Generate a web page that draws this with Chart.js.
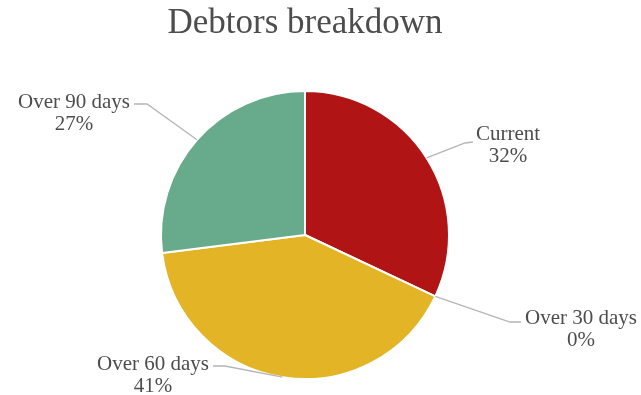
<!DOCTYPE html>
<html>
<head>
<meta charset="utf-8">
<script src="https://cdn.jsdelivr.net/npm/chart.js@4.4.0/dist/chart.umd.min.js"></script>
<style>
  html, body { margin: 0; padding: 0; background: #fff; }
  #wrap { width: 641px; height: 395px; }
</style>
</head>
<body>
<div id="wrap"><canvas id="debtors"></canvas></div>
<script>
// Debtors by age bucket (percent of total)
const categories = ['Current', 'Over 30 days', 'Over 60 days', 'Over 90 days'];
const shares = [32, 0, 41, 27];
const sliceColors = ['#B01414', '#7F7F7F', '#E3B526', '#68AA8C'];

// Where each callout sits: text centre, elbow of the leader line, end next to the text
const callouts = [
    { text: [508, 134], elbow: [465, 143], end: [473, 142] },
    { text: [581, 318], elbow: [510, 322], end: [521, 322] },
    { text: [153, 364], elbow: [225, 366], end: [213, 366] },
    { text: [74, 102], elbow: [147, 104], end: [134, 104] }
];

// Draw "Name / xx%" labels with grey leader lines from the rim of each slice
const calloutPlugin = {
    id: 'callouts',
    afterDatasetsDraw(chart) {
        const ctx = chart.ctx;
        const meta = chart.getDatasetMeta(0);
        ctx.save();
        meta.data.forEach((arc, i) => {
            const c = callouts[i];
            const p = arc.getProps(['x', 'y', 'startAngle', 'endAngle', 'outerRadius'], true);
            const mid = (p.startAngle + p.endAngle) / 2;
            const ex = p.x + Math.cos(mid) * p.outerRadius;
            const ey = p.y + Math.sin(mid) * p.outerRadius;

            ctx.strokeStyle = '#b5b5b5';
            ctx.lineWidth = 1.3;
            ctx.beginPath();
            ctx.moveTo(ex, ey);
            ctx.lineTo(c.elbow[0], c.elbow[1]);
            ctx.lineTo(c.end[0], c.end[1]);
            ctx.stroke();

            ctx.fillStyle = '#4d4d4d';
            ctx.font = '21px "Liberation Serif", "Times New Roman", serif';
            ctx.textAlign = 'center';
            ctx.textBaseline = 'middle';
            ctx.fillText(categories[i], c.text[0], c.text[1]);
            ctx.fillText(shares[i] + '%', c.text[0], c.text[1] + 22);
        });
        ctx.restore();
    }
};

new Chart(document.getElementById('debtors'), {
    type: 'pie',
    data: {
        labels: categories,
        datasets: [{
            data: shares,
            backgroundColor: sliceColors,
            borderColor: '#ffffff',
            borderWidth: 2
        }]
    },
    options: {
        responsive: true,
        maintainAspectRatio: false,
        animation: false,
        layout: { padding: { left: 0, right: 31, top: 0, bottom: 15 } },
        plugins: {
            legend: { display: false },
            tooltip: { enabled: false },
            title: {
                display: true,
                text: 'Debtors breakdown',
                color: '#4d4d4d',
                font: { family: '"Liberation Serif", "Times New Roman", serif', size: 35, weight: 'normal' },
                padding: { top: 3, bottom: 45 }
            }
        }
    },
    plugins: [calloutPlugin]
});
</script>
</body>
</html>
